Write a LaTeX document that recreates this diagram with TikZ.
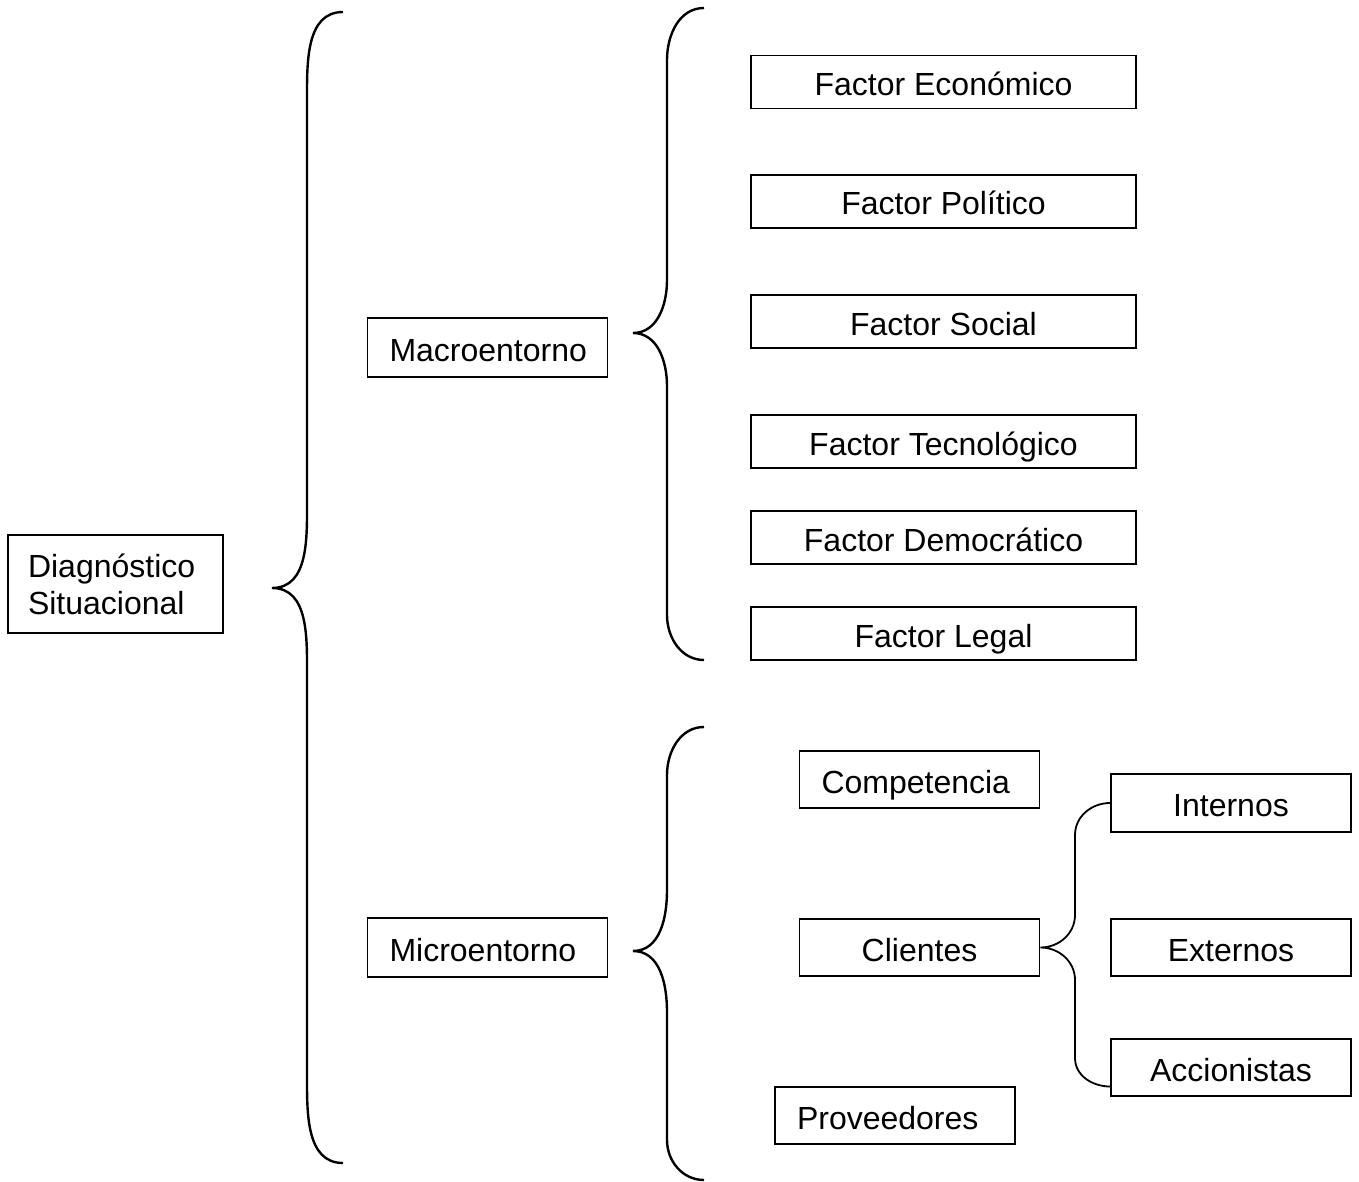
\documentclass[tikz,border=0pt]{standalone}
\usepackage{fontspec}
\setmainfont{Liberation Sans}
\usetikzlibrary{calc}

\tikzset{
  box/.style={draw,line width=0.9pt,inner sep=0pt,minimum width=120pt,minimum height=28.5pt,
              text height=13.5pt,text depth=0pt},
  lbox/.style={box,align=left,text width=98pt,inner xsep=11pt},
  factor/.style={box,minimum width=192.5pt,minimum height=26.5pt},
  brace/.style={line width=1.2pt}
}

\begin{document}
\begin{tikzpicture}[x=0.5pt,y=-0.5pt,font=\fontsize{16pt}{18.5pt}\selectfont]
    \useasboundingbox (0,0) rectangle (1359,1182);
    % Root
    \node[draw,line width=0.9pt,align=left,text width=87.5pt,inner xsep=10pt,minimum height=49pt]
          (diag) at (115.5,584) {Diagnóstico\\Situacional};
    % Second level
    \node[lbox,minimum height=29.5pt] (macro) at (487.5,347.5) {Macroentorno};
    \node[lbox,minimum height=29.5pt] (micro) at (487.5,947.5) {Microentorno};
    % Factors of the macro level
    \foreach \y/\t [count=\i] in {82/Factor Económico,201.5/Factor Político,321.5/Factor Social,
                                  441.5/Factor Tecnológico,537.5/Factor Democrático,633.5/Factor Legal} {
        \node[factor] (f\i) at (943.5,\y) {\t};
    }
    % Micro level
    \node[lbox] (comp) at (919.5,779.5) {Competencia};
    \node[box] (cli) at (919.5,947.5) {Clientes};
    \node[lbox] (prov) at (895,1115.5) {Proveedores};
    \node[box,minimum height=29pt] (int) at (1231,803) {Internos};
    \node[box] (ext) at (1231,947.5) {Externos};
    \node[box] (acc) at (1231,1067.5) {Accionistas};
    % Braces
    \coordinate (t1) at (272,588);
    \coordinate (t2) at (633,333);
    \coordinate (t3) at (633,951);
    \draw[brace] (343,12) to[out=180,in=90] (307,100) -- (307,500) to[out=-90,in=0] (t1)
          to[out=0,in=90] (307,676) -- (307,1075) to[out=-90,in=180] (343,1163);
    \draw[brace] (704,8) to[out=180,in=90] (667,60) -- (667,280) to[out=-90,in=0] (t2)
          to[out=0,in=90] (667,386) -- (667,615) to[out=-90,in=180] (704,660);
    \draw[brace] (704,727) to[out=180,in=90] (667,775) -- (667,890) to[out=-90,in=0] (t3)
          to[out=0,in=90] (667,1012) -- (667,1140) to[out=-90,in=180] (704,1180);
    \draw[line width=0.9pt] (int.west) to[out=180,in=90] (1075,835) -- (1075,915)
          to[out=-90,in=0] (cli.east) to[out=0,in=90] (1075,980) -- (1075,1058)
          to[out=-90,in=180] ($(acc.west)+(0,19)$);
\end{tikzpicture}
\end{document}
